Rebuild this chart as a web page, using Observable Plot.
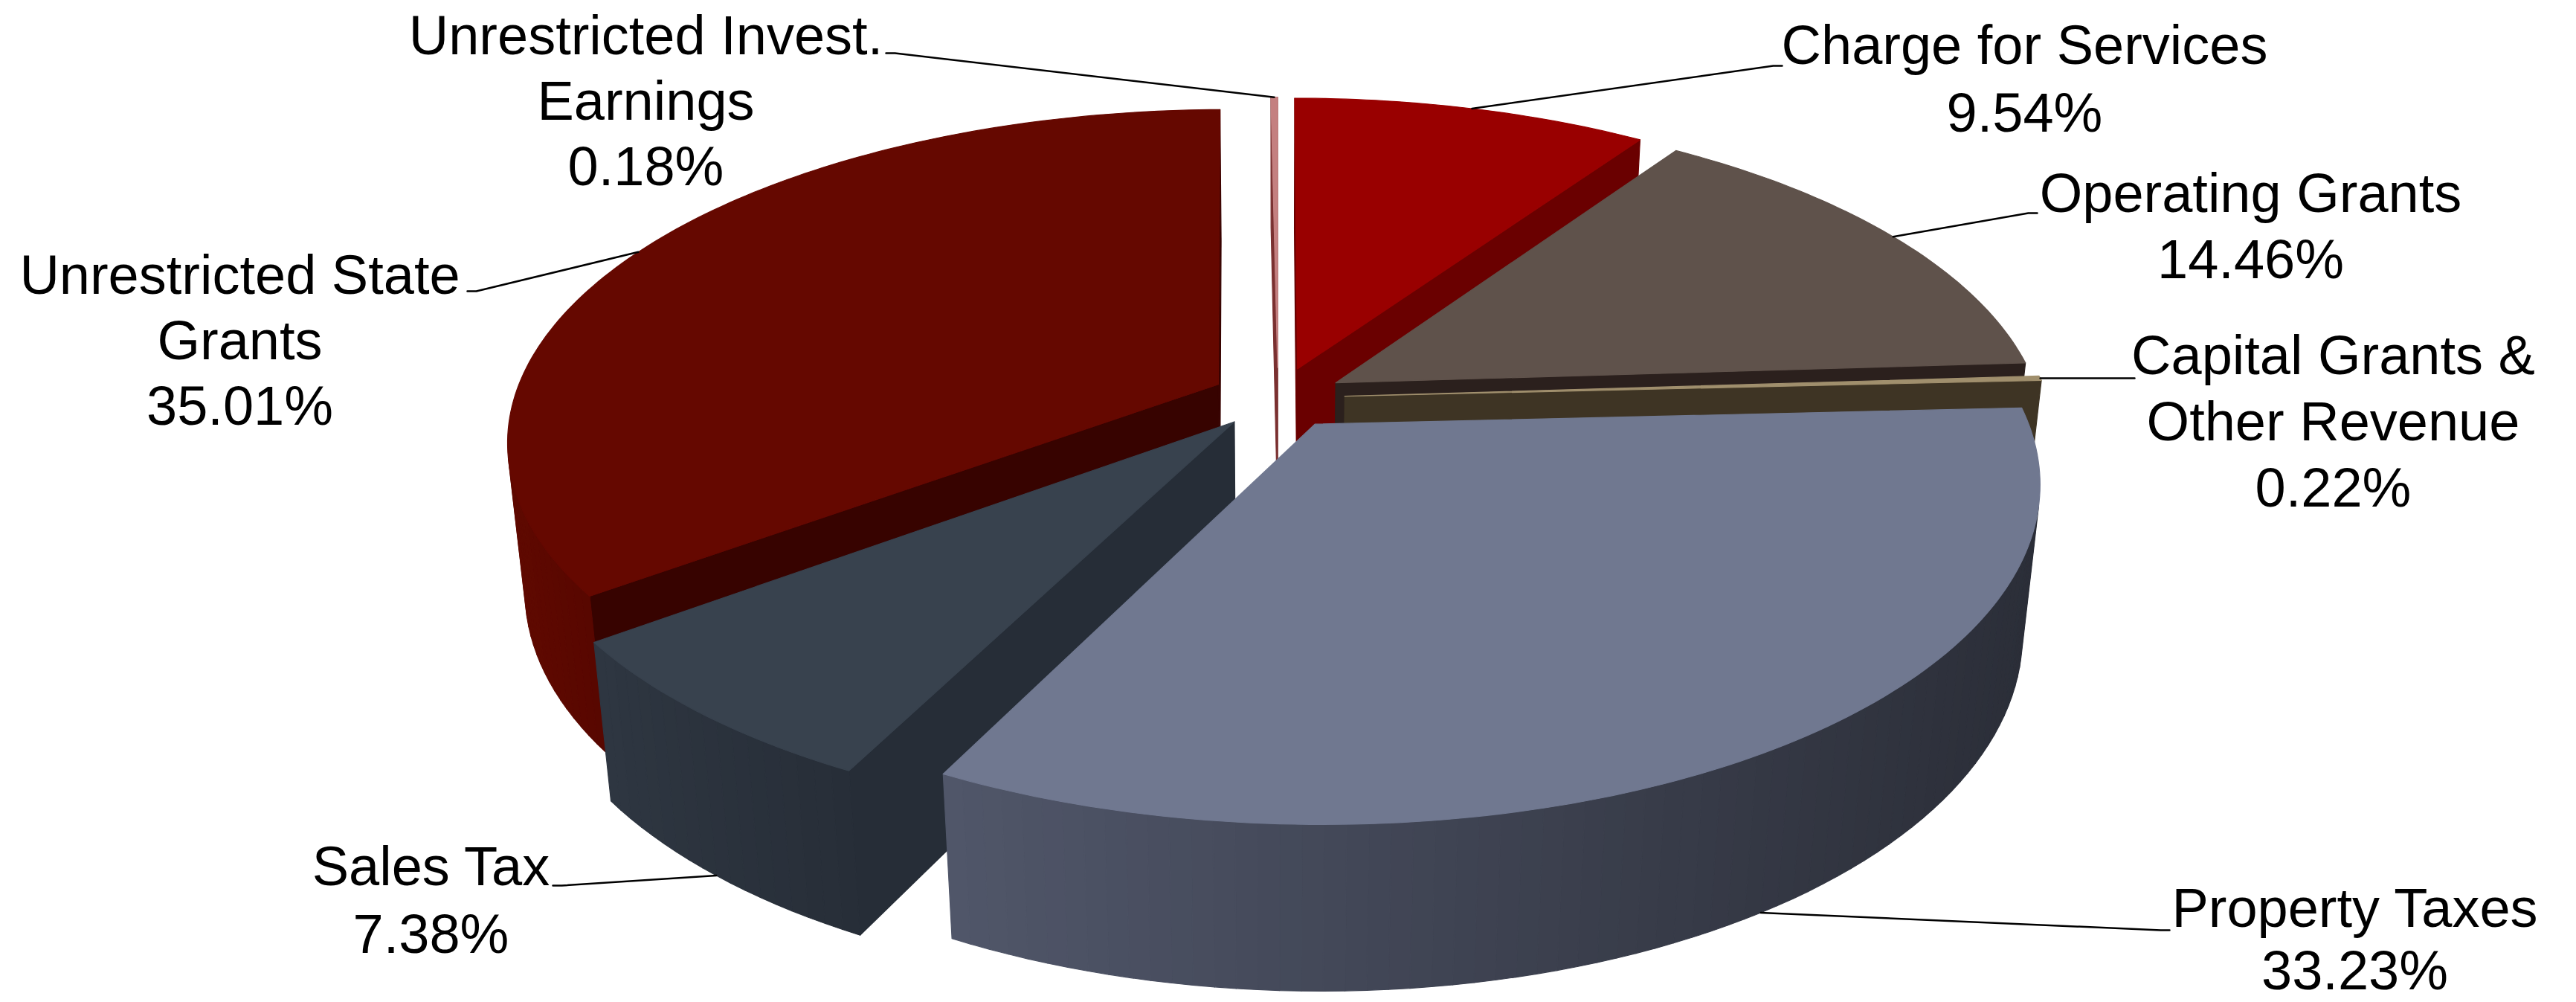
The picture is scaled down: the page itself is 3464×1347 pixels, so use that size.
<!DOCTYPE html>
<html>
<head>
<meta charset="utf-8">
<script src="https://cdn.jsdelivr.net/npm/d3@7"></script>
<script src="https://cdn.jsdelivr.net/npm/@observablehq/plot@0.6"></script>
<style>
  html, body { margin: 0; padding: 0; background: #ffffff; }
  #chart svg { display: block; }
</style>
</head>
<body>
<div id="chart"></div>
<script>
// ---------- data ----------
const categories = [
  "Charge for Services",
  "Operating Grants",
  "Capital Grants &\nOther Revenue",
  "Property Taxes",
  "Sales Tax",
  "Unrestricted State\nGrants",
  "Unrestricted Invest.\nEarnings"
];
const shares = [9.54, 14.46, 0.22, 33.23, 7.38, 35.01, 0.18];

// ---------- styles ----------
const topColors  = ["#990000", "#5f524b", "#a08f6d", "#707890", "#38424e", "#650800", "#c48080"];
const cutColors  = ["#6a0000", "#2b201d", "#3e3424", "#3a3f4e", "#262d37", "#370300", "#7a3030"];
const wallLight  = ["#8a0000", "#4e433d", "#5a4c30", "#505669", "#2e3641", "#5f0900", "#a06060"];
const wallDark   = ["#6a0000", "#3a302b", "#4a3f2a", "#2b2e38", "#272e38", "#580700", "#904040"];

// ---------- layout ----------
const W = 3464, H = 1347;
const cam = {F: 4970, cosT: 0.869, sinT: 0.495, dist: 5.366, cx: 1718, cy: 732, thick: 0.24, explode: 0.095};
// label placement: text centre x, first line centre y, line step, leader elbow, side (+1 text to the right)
const labelLayout = [
  {tx: 2722, ty: 62,   step: 91, ex: 2384, ey: 88,   dir: 1},
  {tx: 3026, ty: 261,  step: 89, ex: 2727, ey: 286,  dir: 1},
  {tx: 3137, ty: 479,  step: 89, ex: 2858, ey: 508,  dir: 1},
  {tx: 3166, ty: 1222, step: 84, ex: 2905, ey: 1250, dir: 1},
  {tx: 579,  ty: 1166, step: 91, ex: 755,  ey: 1190, dir: -1},
  {tx: 322,  ty: 371,  step: 88, ex: 640,  ey: 391,  dir: -1},
  {tx: 868,  ty: 49,   step: 88, ex: 1203, ey: 71,   dir: -1}
];
const fontSize = 74;

// ---------- projection ----------
function proj(u, v, h) {
  const z = cam.dist - h * cam.sinT - v * cam.cosT;
  return [cam.cx + cam.F * u / z, cam.cy - cam.F * (h * cam.cosT - v * cam.sinT) / z];
}
const eye = {u: 0, h: cam.dist * cam.sinT, v: cam.dist * cam.cosT};

const total = d3.sum(shares);
let acc = 0;
const slices = shares.map((s, i) => {
  const a0 = acc / total * 2 * Math.PI; acc += s;
  const a1 = acc / total * 2 * Math.PI;
  const am = (a0 + a1) / 2;
  return {i, a0, a1, am, ex: cam.explode * Math.sin(am), ev: -cam.explode * Math.cos(am)};
});
const rim = (sl, t) => [sl.ex + Math.sin(t), sl.ev - Math.cos(t)];
const facing = (nAng, pu, pv) => Math.sin(nAng) * (eye.u - pu) + (-Math.cos(nAng)) * (eye.v - pv) > 0;

const polys = [];
let pid = 0;
function addPoly(pts, color) { polys.push({id: pid++, color, pts}); }

// painter's order for side faces: far slices first
const order = slices.slice().sort((a, b) => {
  const za = cam.dist - (a.ev - 0.5 * Math.cos(a.am)) * cam.cosT;
  const zb = cam.dist - (b.ev - 0.5 * Math.cos(b.am)) * cam.cosT;
  return zb - za;
});
const T = cam.thick;
for (const sl of order) {
  // radial cut faces
  for (const [ang, nAng] of [[sl.a0, sl.a0 - Math.PI / 2], [sl.a1, sl.a1 + Math.PI / 2]]) {
    if (!facing(nAng, sl.ex, sl.ev)) continue;
    const [ru, rv] = rim(sl, ang);
    addPoly([proj(sl.ex, sl.ev, T), proj(ru, rv, T), proj(ru, rv, 0), proj(sl.ex, sl.ev, 0)], cutColors[sl.i]);
  }
  // outer wall, split into thin quads for shading
  const n = Math.max(2, Math.ceil((sl.a1 - sl.a0) / (Math.PI / 120)));
  const segs = [];
  for (let k = 0; k < n; k++) {
    const t0 = sl.a0 + (sl.a1 - sl.a0) * k / n, t1 = sl.a0 + (sl.a1 - sl.a0) * (k + 1) / n;
    const tm = (t0 + t1) / 2;
    const [mu, mv] = rim(sl, tm);
    if (!facing(tm, mu, mv)) continue;
    const [u0, v0] = rim(sl, t0), [u1, v1] = rim(sl, t1);
    segs.push({pts: [proj(u0, v0, T), proj(u1, v1, T), proj(u1, v1, 0), proj(u0, v0, 0)], x: proj(mu, mv, T / 2)[0]});
  }
  if (segs.length) {
    const xs = d3.extent(segs, d => d.x);
    const shade = d3.interpolateRgb(wallLight[sl.i], wallDark[sl.i]);
    for (const s of segs) addPoly(s.pts, shade(xs[1] > xs[0] ? (s.x - xs[0]) / (xs[1] - xs[0]) : 0.5));
  }
}
// top faces last (never hidden by side faces)
for (const sl of slices) {
  const n = Math.max(2, Math.ceil((sl.a1 - sl.a0) / (Math.PI / 180)));
  const pts = [proj(sl.ex, sl.ev, T)];
  for (let k = 0; k <= n; k++) {
    const [u, v] = rim(sl, sl.a0 + (sl.a1 - sl.a0) * k / n);
    pts.push(proj(u, v, T));
  }
  addPoly(pts, topColors[sl.i]);
}
const polyRows = polys.flatMap(p => p.pts.map(([x, y]) => ({id: p.id, x, y, color: p.color})));

// labels and leaders
const textRows = [], leaderRows = [];
slices.forEach(sl => {
  const L = labelLayout[sl.i];
  const lines = categories[sl.i].split("\n").concat([shares[sl.i].toFixed(2) + "%"]);
  lines.forEach((t, k) => textRows.push({x: L.tx, y: L.ty + k * L.step, t}));
  const [au, av] = rim(sl, sl.am);
  const [ax, ay] = proj(au, av, Math.cos(sl.am) > 0 ? T : 0);
  leaderRows.push({id: sl.i, x: ax, y: ay}, {id: sl.i, x: L.ex, y: L.ey}, {id: sl.i, x: L.ex + L.dir * 12, y: L.ey});
});

const chart = Plot.plot({
  width: W, height: H,
  margin: 0,
  x: {domain: [0, W], range: [0, W], axis: null},
  y: {domain: [0, H], range: [0, H], axis: null},
  color: {type: "identity"},
  style: {fontFamily: "'Liberation Sans', Arial, sans-serif", background: "#ffffff"},
  marks: [
    Plot.line(polyRows, {x: "x", y: "y", z: "id", fill: "color", stroke: "color", strokeWidth: 1.2, curve: "linear-closed"}),
    Plot.line(leaderRows, {x: "x", y: "y", z: "id", stroke: "#000000", strokeWidth: 2.5}),
    Plot.text(textRows, {x: "x", y: "y", text: "t", fontSize, fill: "#000000", textAnchor: "middle", lineAnchor: "middle"})
  ]
});
document.getElementById("chart").appendChild(chart);
</script>
</body>
</html>
